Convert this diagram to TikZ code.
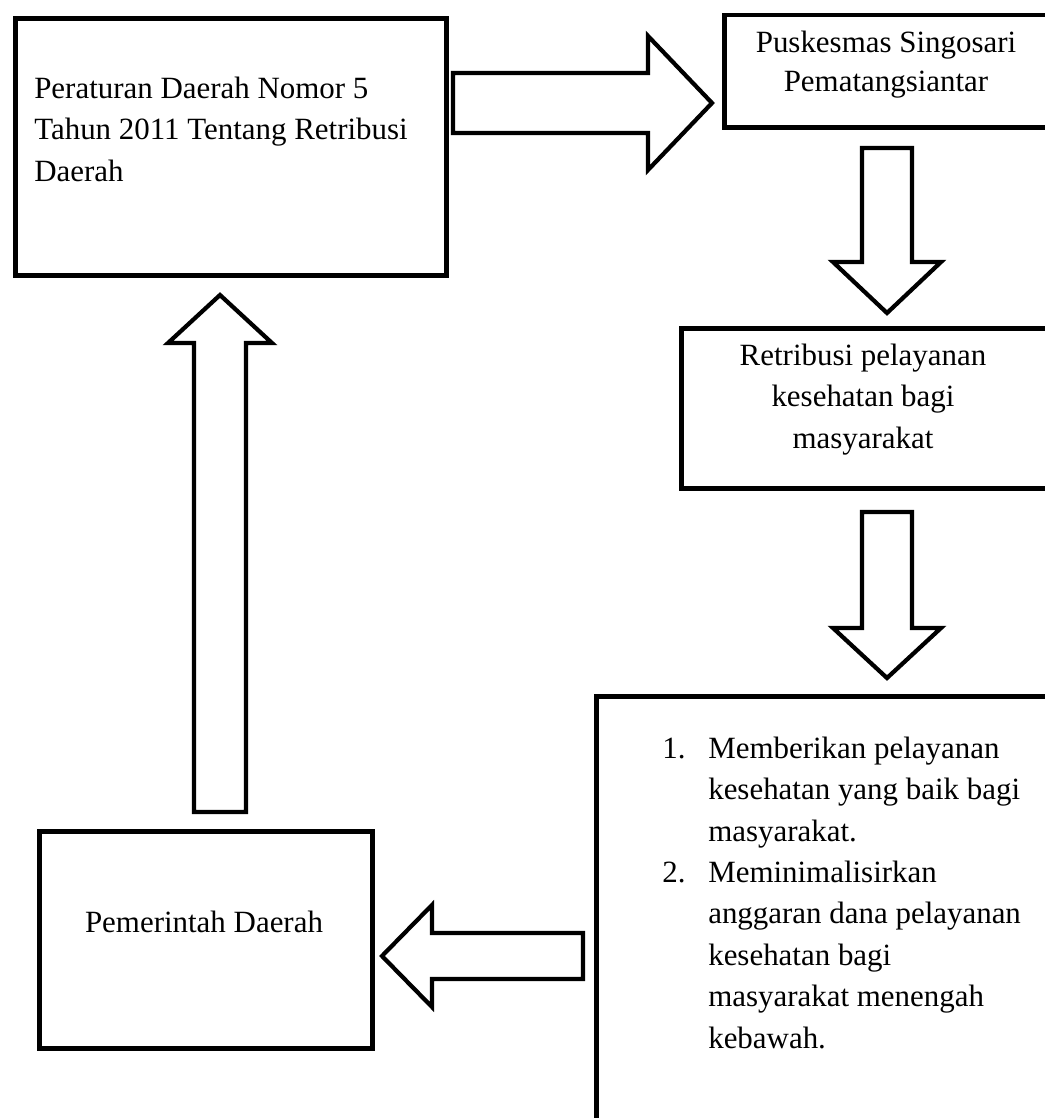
\documentclass[tikz,border=0pt]{standalone}
\usepackage{fontspec}
\setmainfont{Liberation Serif}
\usetikzlibrary{calc, positioning}

\newcommand{\px}{0.025cm}
\newcommand{\itemno}[1]{\llap{\makebox[32.6pt][l]{#1}}}
% block arrow: tail, tip, shaft half width, head half width, head length (in px)
\newcommand{\fatarrow}[5]{%
  \coordinate (#1-base) at ($(#2)!#5*\px!(#1)$);
  \draw[fatline] ($(#1)!#3*\px!90:(#2)$) -- ($(#1-base)!#3*\px!90:(#2)$)
    -- ($(#1-base)!#4*\px!90:(#2)$) -- (#2) -- ($(#1-base)!#4*\px!-90:(#2)$)
    -- ($(#1-base)!#3*\px!-90:(#2)$) -- ($(#1)!#3*\px!-90:(#2)$) -- cycle;
}

\tikzset{
  box/.style={draw, line width=3.4pt, rectangle, anchor=north west, inner sep=0pt},
  txt/.style={inner sep=0pt, font=\fontsize{22pt}{29.4pt}\selectfont},
  fatline/.style={draw, line width=3pt, line join=miter, fill=white}
}

\begin{document}
\begin{tikzpicture}[x=0.025cm, y=-0.025cm]
    \useasboundingbox (0,0) rectangle (1045,1118);
    \fill[white] (0,0) rectangle (1045,1118);
    \clip (0,0) rectangle (1045,1118);

    % Boxes (the right-hand ones run off the page)
    \node[box, minimum width=10.775cm, minimum height=6.425cm] (perda) at (13,16) {};
    \node[box, minimum width=9.45cm, minimum height=2.8125cm] (puskesmas) at (722,12.5) {};
    \node[box, minimum width=10.525cm, minimum height=4cm] (retribusi) at (679,326) {};
    \node[box, minimum width=12.65cm, minimum height=12.65cm] (manfaat) at (594,694) {};
    \node[box, minimum width=8.325cm, minimum height=5.425cm] (pemda) at (37,829) {};

    % Box texts (base = baseline of the last line)
    \node[txt, anchor=base west, align=left] (perdatext) at (34,181)
      {Peraturan Daerah Nomor 5\\Tahun 2011 Tentang Retribusi\\Daerah};
    \node[txt, anchor=base, align=center, font=\fontsize{22pt}{27.6pt}\selectfont] (puskesmastext) at (886,91)
      {Puskesmas Singosari\\Pematangsiantar};
    \node[txt, anchor=base, align=center] (retribusitext) at (863,448)
      {Retribusi pelayanan\\kesehatan bagi\\masyarakat};
    \node[txt, anchor=base west, align=left] (manfaattext) at (708,1048)
      {\itemno{1.}Memberikan pelayanan\\kesehatan yang baik bagi\\masyarakat.\\
       \itemno{2.}Meminimalisirkan\\anggaran dana pelayanan\\kesehatan bagi\\masyarakat menengah\\kebawah.};
    \node[txt, anchor=base] (pemdatext) at (204,932) {Pemerintah Daerah};

    % Arrow end points
    \coordinate (perdaout) at (453,103);   \coordinate (puskesmasin) at (712,103);
    \coordinate (puskesmasout) at (887,148); \coordinate (retribusiin) at (887,313);
    \coordinate (retribusiout) at (887,512); \coordinate (manfaatin) at (887,678);
    \coordinate (manfaatout) at (583,956);  \coordinate (pemdain) at (382,956);
    \coordinate (pemdaout) at (220,812);    \coordinate (perdain) at (220,295);

    % Block arrows
    \fatarrow{perdaout}{puskesmasin}{30}{67}{64}
    \fatarrow{puskesmasout}{retribusiin}{25}{54}{51}
    \fatarrow{retribusiout}{manfaatin}{25}{54}{50}
    \fatarrow{manfaatout}{pemdain}{23}{51}{50}
    \fatarrow{pemdaout}{perdain}{26}{52}{48}
\end{tikzpicture}
\end{document}
